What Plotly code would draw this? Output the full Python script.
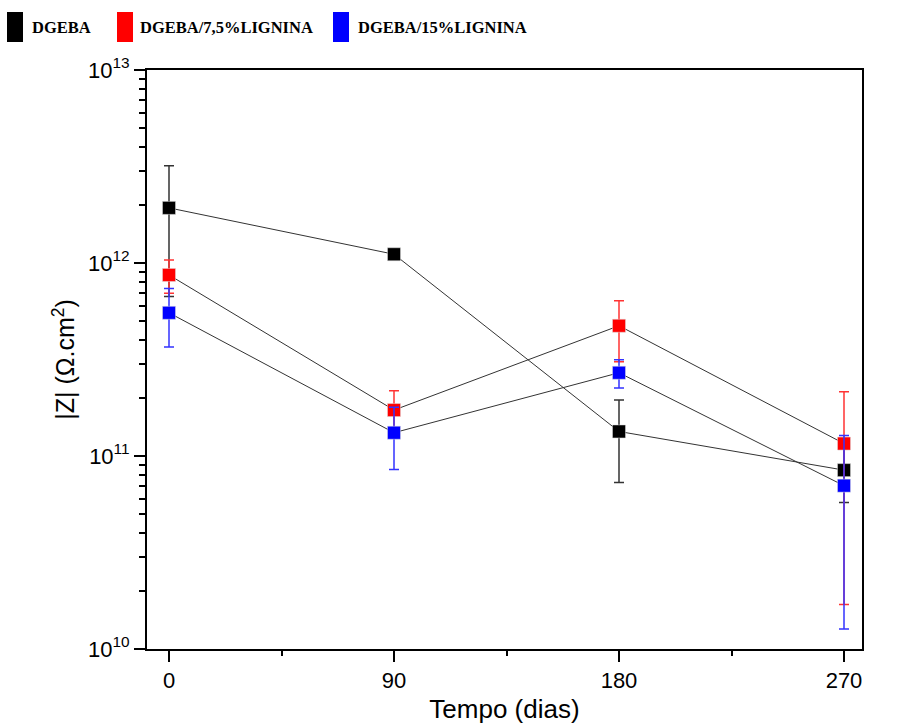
import plotly.graph_objects as go

dias = [0, 90, 180, 270]
series_names = ["DGEBA", "DGEBA/7,5%LIGNINA", "DGEBA/15%LIGNINA"]
dgeba = [1.93e12, 1.11e12, 1.34e11, 8.45e10]
dgeba_err = [1.26e12, 3.0e10, 6.1e10, 2.7e10]
lig75 = [8.67e11, 1.73e11, 4.73e11, 1.16e11]
lig75_err = [1.7e11, 4.5e10, 1.65e11, 9.9e10]
lig15 = [5.52e11, 1.32e11, 2.70e11, 7.02e10]
lig15_err = [1.85e11, 4.7e10, 4.5e10, 5.75e10]
colors = ["#000000", "#ff0000", "#0000ff"]
err_colors = ["#333333", "#ff3333", "#3333ff"]
x_ticks = [0, 90, 180, 270]
x_minor = [45, 135, 225]
y_ticks = [1e10, 1e11, 1e12, 1e13]
y_ticktext = ["10<sup>10</sup>", "10<sup>11</sup>", "10<sup>12</sup>", "10<sup>13</sup>"]
y_minor = [m * 10 ** e for e in (10, 11, 12) for m in range(2, 10)]

W, H = 915, 724
L, R, T, B = 147, 862, 70, 649

fig = go.Figure()
for name, ys, err, c, ec in zip(series_names, [dgeba, lig75, lig15],
                                 [dgeba_err, lig75_err, lig15_err], colors, err_colors):
    fig.add_trace(go.Scatter(
        x=dias, y=ys, mode="lines+markers", name=name, showlegend=False,
        line=dict(color="#333333", width=1),
        marker=dict(symbol="square", size=13, color=c, line=dict(color="#dddddd", width=0.5)),
        error_y=dict(type="data", array=err, visible=True, color=ec, thickness=1.5, width=5),
    ))

def px_x(p):
    return (p - L) / (R - L)

def px_y(p):
    return (B - p) / (B - T)

leg_boxes = [7, 117, 333]
leg_text = [32, 140, 358]
for name, c, bx, tx in zip(series_names, colors, leg_boxes, leg_text):
    fig.add_shape(type="rect", xref="paper", yref="paper",
                  x0=px_x(bx), x1=px_x(bx + 16), y0=px_y(42), y1=px_y(12),
                  fillcolor=c, line=dict(width=0))
    fig.add_annotation(xref="paper", yref="paper", x=px_x(tx - 2), y=px_y(27),
                       text=name, showarrow=False, xanchor="left", yanchor="middle",
                       font=dict(family="Liberation Serif", size=16.5, color="black", weight="bold"))

fig.update_xaxes(
    range=[-8.8, 277.2], tickvals=x_ticks, ticks="outside", ticklen=11, tickwidth=2, tickcolor="black",
    showline=True, linewidth=2, linecolor="black", mirror=True, showgrid=False, zeroline=False,
    automargin=False,
    tickfont=dict(family="Liberation Sans", size=22, color="black"),
    minor=dict(tickvals=x_minor, ticks="outside", ticklen=5, tickwidth=2, tickcolor="black"),
    title=dict(text="Tempo (dias)", font=dict(family="Liberation Sans", size=26, color="black"), standoff=8),
)
fig.update_yaxes(
    type="log", range=[10, 13], tickvals=y_ticks, ticktext=y_ticktext,
    ticks="outside", ticklen=11, tickwidth=2, tickcolor="black",
    showline=True, linewidth=2, linecolor="black", mirror=True, showgrid=False, zeroline=False,
    automargin=False,
    tickfont=dict(family="Liberation Sans", size=22, color="black"),
    minor=dict(tickvals=y_minor, ticks="outside", ticklen=6, tickwidth=2, tickcolor="black"),
    title=dict(text="|Z| (Ω.cm<sup>2</sup>)", font=dict(family="Liberation Sans", size=25, color="black"), standoff=6),
)
fig.update_layout(
    width=W, height=H, margin=dict(l=L, r=W - R, t=T, b=H - B),
    plot_bgcolor="white", paper_bgcolor="white",
)
fig.write_html("out.html")
